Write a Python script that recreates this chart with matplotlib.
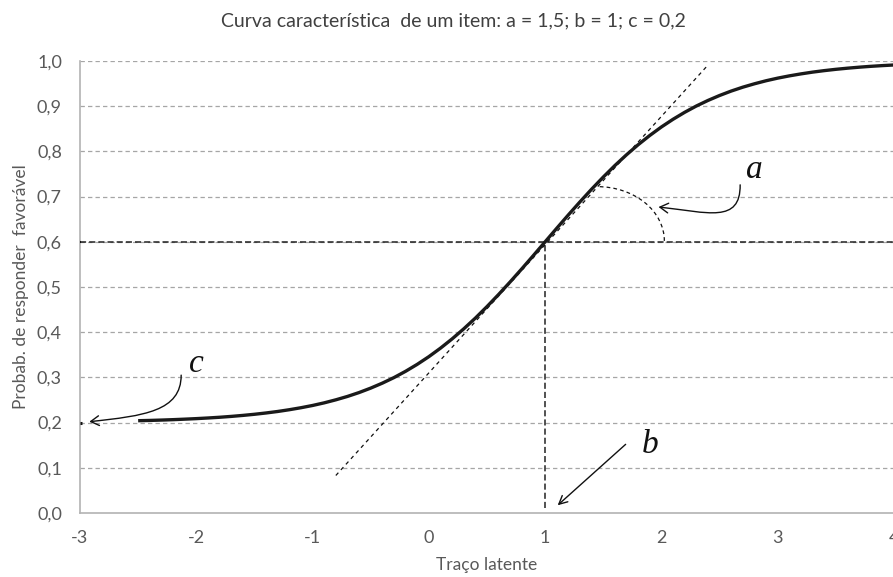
import numpy as np
import matplotlib
matplotlib.use("Agg")
import matplotlib.pyplot as plt
from matplotlib.patches import Arc, FancyArrowPatch
from matplotlib.path import Path

# curva caracteristica, theta de -2,5 a 4 em passos de 0,1
theta = np.linspace(-2.5, 4.0, 66)
prob = [0.2042, 0.2048, 0.2056, 0.2065, 0.2076, 0.2088, 0.2102, 0.2118, 0.2137, 0.2159,
        0.2184, 0.2213, 0.2246, 0.2285, 0.2329, 0.2379, 0.2437, 0.2504, 0.2579, 0.2665,
        0.2763, 0.2873, 0.2996, 0.3135, 0.3289, 0.3459, 0.3647, 0.3852, 0.4074, 0.4312,
        0.4567, 0.4835, 0.5115, 0.5404, 0.5700, 0.6000, 0.6300, 0.6596, 0.6885, 0.7165,
        0.7433, 0.7688, 0.7926, 0.8148, 0.8353, 0.8541, 0.8711, 0.8865, 0.9004, 0.9127,
        0.9237, 0.9335, 0.9421, 0.9496, 0.9563, 0.9621, 0.9671, 0.9715, 0.9754, 0.9787,
        0.9816, 0.9841, 0.9863, 0.9882, 0.9898, 0.9912]

# tangente no ponto b
tan_x = [-0.8, 2.4]
tan_y = [0.083, 0.991]

b_val = 1.0
p_b = 0.6
c_val = 0.2

xticks = [-3, -2, -1, 0, 1, 2, 3, 4]
yticks = [0.0, 0.1, 0.2, 0.3, 0.4, 0.5, 0.6, 0.7, 0.8, 0.9, 1.0]

txt_col = "#595959"
font = ["Lato", "DejaVu Sans"]

fig = plt.figure(figsize=(8.93, 5.77), dpi=100)
ax = fig.add_axes([80/893, 64/577, 814/893, 452/577])

ax.set_xlim(-3, 4)
ax.set_ylim(0, 1)

# grade
for yv in yticks[1:]:
    ax.axhline(yv, color="#a6a6a6", lw=0.9, dashes=(3.5, 2.5), zorder=1)

# linhas de referencia
ax.plot([-3, 4], [p_b, p_b], color="#222222", lw=1.1, dashes=(4, 2), zorder=2)
ax.plot([b_val, b_val], [0.012, p_b], color="#222222", lw=1.1, dashes=(4, 2), zorder=2)
ax.plot(tan_x, tan_y, color="#111111", lw=0.9, dashes=(3, 3), zorder=2)

# curva
ax.plot(theta, prob, color="#1a1a1a", lw=2.4, solid_capstyle="butt", zorder=3)

# marcas no eixo
ax.plot([-3, -2.985], [c_val, c_val], color="#111111", lw=2.2, solid_capstyle="butt", clip_on=False, zorder=4)
ax.plot([-3, -2.99], [p_b, p_b], color="#111111", lw=1.5, solid_capstyle="butt", clip_on=False, zorder=4)

# arco do angulo a
ax.add_patch(Arc((1.45, 0.602), 1.15, 0.24, theta1=0, theta2=90,
                 color="#111111", lw=0.9, ls=(0, (3, 2.5)), zorder=2))

def seta(pts):
    codes = [Path.MOVETO, Path.CURVE4, Path.CURVE4, Path.CURVE4]
    p = FancyArrowPatch(path=Path(pts, codes), arrowstyle="->,head_length=6,head_width=3.5",
                        color="#111111", lw=1.0, zorder=5)
    ax.add_patch(p)

seta([(2.677, 0.726), (2.68, 0.64), (2.40, 0.665), (1.975, 0.677)])
seta([(-2.13, 0.305), (-2.13, 0.225), (-2.45, 0.215), (-2.92, 0.202)])
ax.annotate("", xy=(1.09, 0.013), xytext=(1.71, 0.156),
            arrowprops=dict(arrowstyle="->,head_length=0.6,head_width=0.3", color="#111111", lw=1.0))

serif = dict(family="Liberation Serif", style="italic", fontsize=24, color="#111111")
ax.text(2.80, 0.76, "a", ha="center", va="center", **serif)
ax.text(-2.0, 0.33, "c", ha="center", va="center", **serif)
ax.text(1.90, 0.15, "b", ha="center", va="center", **serif)

# eixos
for s in ["top", "right"]:
    ax.spines[s].set_visible(False)
for s in ["left", "bottom"]:
    ax.spines[s].set_color("#b3b3b3")
    ax.spines[s].set_linewidth(1.2)

ax.set_xticks(xticks)
ax.set_xticklabels([str(v) for v in xticks], family=font, fontsize=13, color=txt_col)
ax.set_yticks(yticks)
ax.set_yticklabels([("%.1f" % v).replace(".", ",") for v in yticks], family=font, fontsize=13, color=txt_col)
ax.tick_params(length=0)
ax.tick_params(axis="y", pad=13)
ax.tick_params(axis="x", pad=12)

ax.set_xlabel("Traço latente", family=font, fontsize=12.5, color=txt_col, labelpad=8)
ax.set_ylabel("Probab. de responder  favorável", family=font, fontsize=12.5, color=txt_col, labelpad=6)
fig.text(453/893, 1 - 21/577, "Curva característica  de um item: a = 1,5; b = 1; c = 0,2",
         family=font, fontsize=14, color="#404040", ha="center", va="center")

fig.savefig("out.png", dpi=100, facecolor="white")
